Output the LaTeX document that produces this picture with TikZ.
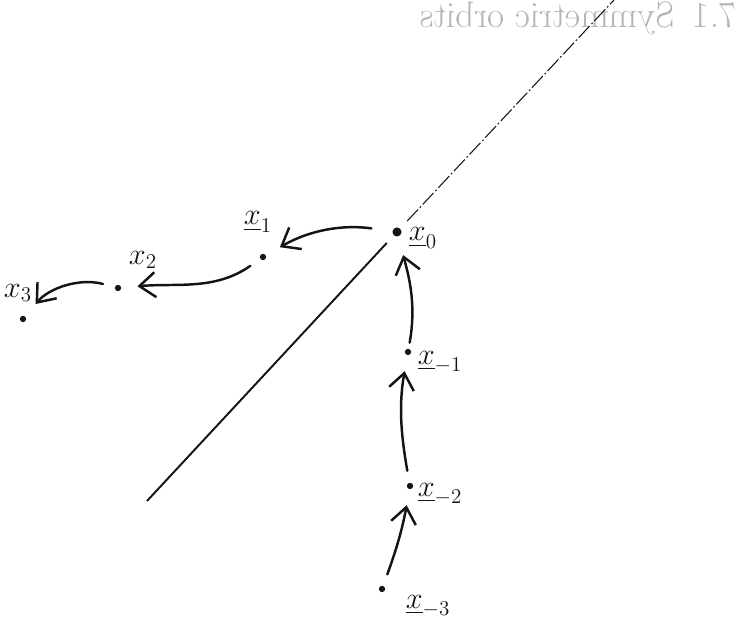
\documentclass[tikz,border=0pt]{standalone}
\usepackage{amsmath,amssymb}
\usepackage{xcolor}
\usepackage{tikz}
\usetikzlibrary{arrows.meta, positioning, calc}
\definecolor{penInk}{HTML}{141414}
\definecolor{showThrough}{HTML}{B4B4B4}

\begin{document}
\begin{tikzpicture}[
  x=0.02cm, y=0.02cm,
  pt/.style={circle, fill=penInk, inner sep=0pt, minimum size=3.6pt},
  bigpt/.style={pt, minimum size=5.2pt},
  lbl/.style={font=\LARGE, text=penInk, inner sep=0pt},
  orbit/.style={draw=penInk, line width=1.4pt, line cap=round,
                -{Straight Barb[length=3.2mm, width=5mm, line width=1.4pt]},
                shorten <=0.24cm, shorten >=0.32cm},
  axis/.style={draw=penInk, line width=1.1pt},
  axisdash/.style={draw=penInk, line width=0.6pt,
                   dash pattern=on 9pt off 1.5pt on 1pt off 1.5pt},
  header/.style={text=showThrough, inner sep=0pt, font=\fontsize{21}{24}\selectfont},
]
\useasboundingbox (0,0) rectangle (755,624);

% show-through of the page header
\node[header, xscale=-1] (hdr) at (578,606) {7.1\enspace Symmetric orbits};

% symmetry line
\coordinate (lineBot) at (147,123);
\coordinate (lineTop) at (614,624);

% orbit points
\node[bigpt] (x0)  at (397,392) {};
\node[pt]    (x1)  at (263,367) {};
\node[pt]    (x2)  at (118,336) {};
\node[pt]    (x3)  at (23,305)  {};
\node[pt]    (xm1) at (408,272) {};
\node[pt]    (xm2) at (410,138) {};
\node[pt]    (xm3) at (382,35)  {};

\draw[axis, shorten >=0.2cm] (lineBot) -- (x0);
\draw[axisdash, shorten <=0.2cm] (x0) -- (lineTop);

% labels
\node[lbl] (l0)  at (423,386) {$\underline{x}_0$};
\node[lbl] (l1)  at (258,402) {$\underline{x}_1$};
\node[lbl] (l2)  at (143,364) {$x_2$};
\node[lbl] (l3)  at (18,331)  {$x_3$};
\node[lbl] (lm1) at (440,262) {$\underline{x}_{-1}$};
\node[lbl] (lm2) at (440,130) {$\underline{x}_{-2}$};
\node[lbl] (lm3) at (428,18)  {$\underline{x}_{-3}$};

% forward orbit
\draw[orbit, shorten <=0.42cm] (x0) to[out=172, in=30] (x1);
\draw[orbit] (x1) to[out=215, in=5]  (x2);
\draw[orbit] (x2) to[out=165, in=50] (x3);

% backward orbit
\draw[orbit] (xm3) to[out=70, in=-100]  (xm2);
\draw[orbit] (xm2) to[out=100, in=-100] (xm1);
\draw[orbit, shorten <=0.12cm, shorten >=0.38cm] (xm1) to[out=80, in=-75] (x0);
\end{tikzpicture}
\end{document}
